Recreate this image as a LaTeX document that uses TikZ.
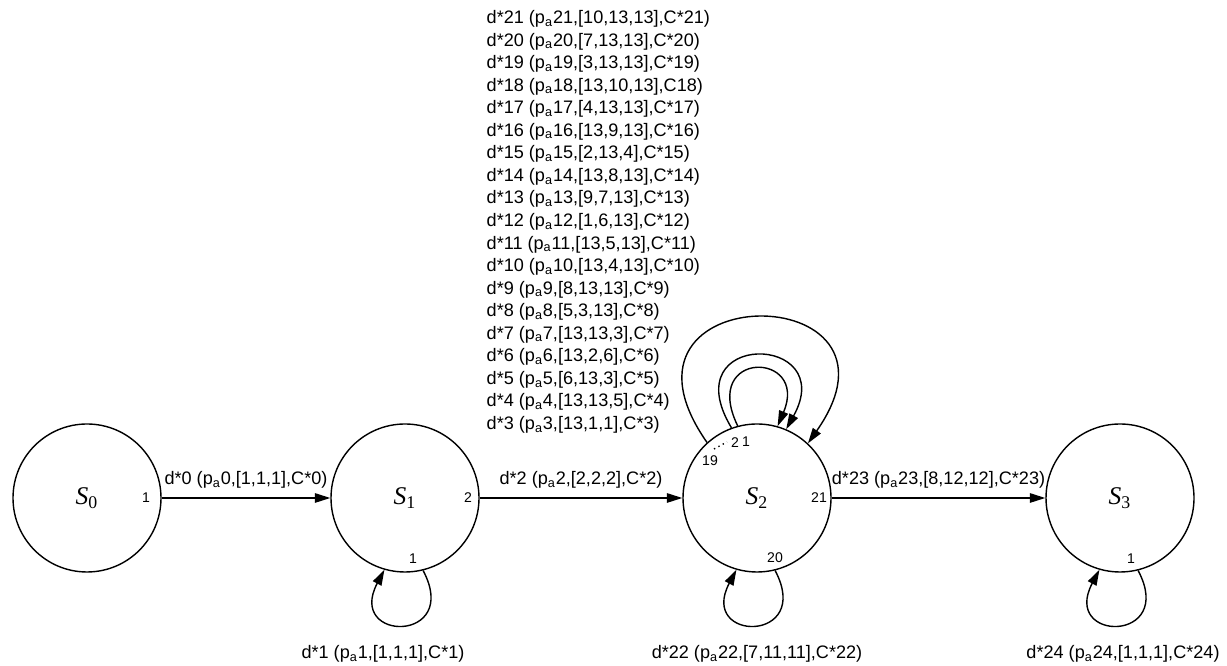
\documentclass[tikz,border=0pt]{standalone}
\usepackage{fontspec}
\setmainfont{Liberation Sans}
\newfontfamily\statefont{Liberation Serif}
\usetikzlibrary{arrows.meta}

\newcommand{\stname}[1]{{\statefont\fontsize{14.5}{16}\selectfont\itshape S\textsubscript{\upshape #1}}}

\tikzset{
  state/.style={circle, draw, minimum size=2.96cm, inner sep=0pt},
  port/.style={font=\fontsize{8}{9}\selectfont, inner sep=0pt},
  lbl/.style={font=\fontsize{10.3}{12}\selectfont, inner sep=0pt, anchor=base},
}

\begin{document}
\begin{tikzpicture}[>={Triangle[length=3.1mm,width=1.9mm]}, line width=0.8pt]
  \useasboundingbox (0,0) rectangle (24.54,13.32);
  \node[state] (S0) at (1.74,3.36)  {\stname{0}};
  \node[state] (S1) at (8.10,3.36)  {\stname{1}};
  \node[state] (S2) at (15.14,3.36) {\stname{2}};
  \node[state] (S3) at (22.40,3.36) {\stname{3}};
  % transitions between states
  \draw[->] (S0) -- node[lbl, yshift=0.27cm] (e0) {d*0 (p\textsubscript{a}0,[1,1,1],C*0)} (S1);
  \draw[->] (S1) -- node[lbl, yshift=0.27cm] (e2) {d*2 (p\textsubscript{a}2,[2,2,2],C*2)} (S2);
  \draw[->] (S2) -- node[lbl, yshift=0.27cm] (e23) {d*23 (p\textsubscript{a}23,[8,12,12],C*23)} (S3);
  % self loops
  \draw[->] (S1.-76) to[out=-62, in=-118, distance=1.65cm] (S1.-106);
  \draw[->] (S2.-76) to[out=-62, in=-118, distance=1.65cm] (S2.-106);
  \draw[->] (S3.-76) to[out=-62, in=-118, distance=1.65cm] (S3.-106);
  \draw[->] (S2.132) to[out=125, in=55, distance=4.08cm] (S2.47);
  \draw[->] (S2.110) to[out=121, in=61, out distance=2.29cm, in distance=2.2cm] (S2.67);
  \draw[->] (S2.105) to[out=116, in=67, out distance=1.71cm, in distance=1.63cm] (S2.74);
  % port numbers
  \node[port] (p0a) at (2.92,3.36) {1};
  \node[port] (p1b) at (9.36,3.36) {2};
  \node[port] (p1a) at (8.26,2.14) {1};
  \node[port] (p2u) at (16.38,3.36) {21};
  \node[port] (p2l) at (15.50,2.16) {20};
  \node[port] (p2s) at (14.20,4.10) {19};
  \node[port] (p2b) at (14.70,4.46) {2};
  \node[port] (p2a) at (14.92,4.48) {1};
  \node[port] (p3a) at (22.62,2.14) {1};
  \coordinate (d1) at (14.28,4.34);
  \coordinate (d2) at (14.54,4.48);
  \draw[dotted] (d1) -- (d2);
  % labels of the loops on S2
  \foreach \n/\v/\c in {21/{10,13,13}/C*21, 20/{7,13,13}/C*20, 19/{3,13,13}/C*19,
      18/{13,10,13}/C18, 17/{4,13,13}/C*17, 16/{13,9,13}/C*16, 15/{2,13,4}/C*15,
      14/{13,8,13}/C*14, 13/{9,7,13}/C*13, 12/{1,6,13}/C*12, 11/{13,5,13}/C*11,
      10/{13,4,13}/C*10, 9/{8,13,13}/C*9, 8/{5,3,13}/C*8, 7/{13,13,3}/C*7,
      6/{13,2,6}/C*6, 5/{6,13,3}/C*5, 4/{13,13,5}/C*4, 3/{13,1,1}/C*3}
    \node[lbl, anchor=base west] (l\n) at (9.72,{4.73+(\n-3)*0.451}) {d*\n\ (p\textsubscript{a}\n,[\v],\c)};
  % labels below the loops
  \node[lbl] (e1) at (7.66,0.15) {d*1 (p\textsubscript{a}1,[1,1,1],C*1)};
  \node[lbl] (e22) at (15.14,0.15) {d*22 (p\textsubscript{a}22,[7,11,11],C*22)};
  \node[lbl] (e24) at (22.46,0.15) {d*24 (p\textsubscript{a}24,[1,1,1],C*24)};
\end{tikzpicture}
\end{document}
